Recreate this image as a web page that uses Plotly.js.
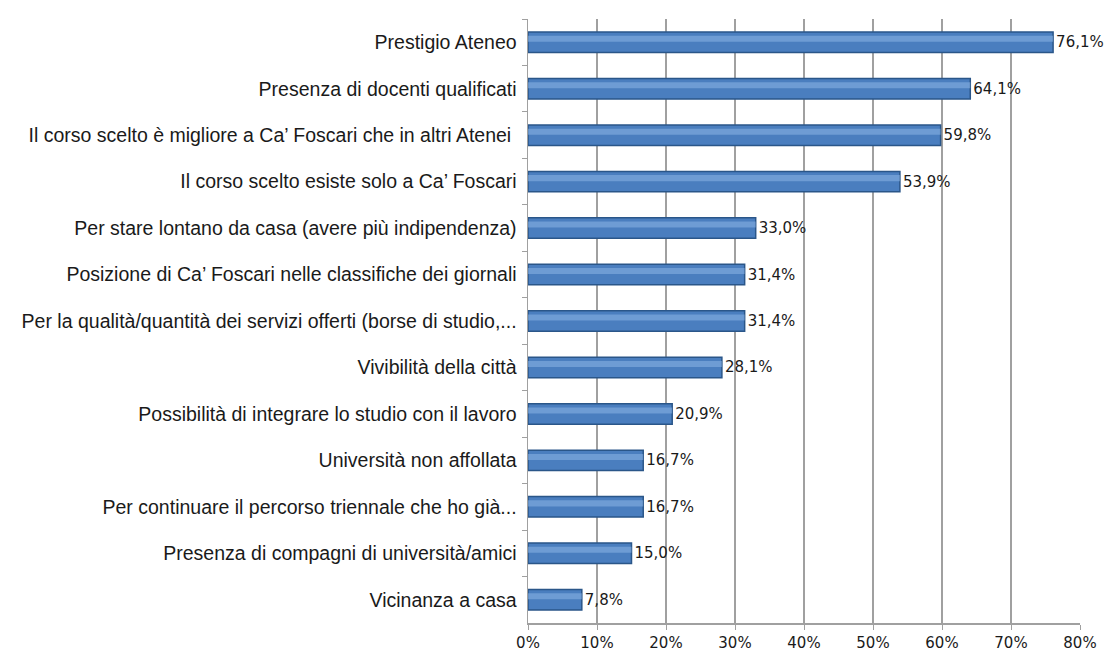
<!DOCTYPE html>
<html>
<head>
<meta charset="utf-8">
<script src="https://cdn.plot.ly/plotly-3.0.1.min.js"></script>
<style>html,body{margin:0;padding:0;background:#fff}#chart{width:1120px;height:665px}</style>
</head>
<body>
<div id="chart"></div>
<script>
const categories = [
  "Prestigio Ateneo",
  "Presenza di docenti qualificati",
  "Il corso scelto è migliore a Ca’ Foscari che in altri Atenei ",
  "Il corso scelto esiste solo a Ca’ Foscari",
  "Per stare lontano da casa (avere più indipendenza)",
  "Posizione di Ca’ Foscari nelle classifiche dei giornali",
  "Per la qualità/quantità dei servizi offerti (borse di studio,...",
  "Vivibilità della città",
  "Possibilità di integrare lo studio con il lavoro",
  "Università non affollata",
  "Per continuare il percorso triennale che ho già...",
  "Presenza di compagni di università/amici",
  "Vicinanza a casa"
];
const values = [76.1, 64.1, 59.8, 53.9, 33.0, 31.4, 31.4, 28.1, 20.9, 16.7, 16.7, 15.0, 7.8];
const tickValues = [0, 10, 20, 30, 40, 50, 60, 70, 80];
const tickLabels = ["0%", "10%", "20%", "30%", "40%", "50%", "60%", "70%", "80%"];

const labelTexts = values.map(v => v.toFixed(1).replace('.', ',') + '%');

const main = {
  type: 'bar',
  orientation: 'h',
  x: values,
  y: categories,
  width: 0.44,
  marker: {color: '#4A7EBF', line: {color: '#2A5689', width: 1.5}},
  text: labelTexts,
  textposition: 'outside',
  cliponaxis: false,
  textfont: {family: 'DejaVu Sans', size: 15, color: '#1a1a1a'},
  hoverinfo: 'skip'
};
const highlight = {
  type: 'bar',
  orientation: 'h',
  x: values,
  y: categories,
  width: 0.13,
  offset: -0.14,
  marker: {color: 'rgba(140,180,230,0.55)', line: {width: 0}},
  hoverinfo: 'skip'
};

const layout = {
  width: 1120, height: 665,
  margin: {l: 528, r: 40, t: 19, b: 42},
  paper_bgcolor: '#fff', plot_bgcolor: '#fff',
  showlegend: false,
  barmode: 'overlay',
  xaxis: {
    range: [0, 80],
    tickvals: tickValues,
    ticktext: tickLabels,
    showgrid: true, gridcolor: '#A0A0A0', gridwidth: 1.2,
    zeroline: false,
    showline: true, linecolor: '#A0A0A0', linewidth: 1.5,
    ticks: 'outside', ticklen: 5, tickcolor: '#A0A0A0',
    tickfont: {family: 'DejaVu Sans', size: 15, color: '#1a1a1a'},
    fixedrange: true
  },
  yaxis: {
    autorange: 'reversed',
    type: 'category',
    showgrid: false, zeroline: false,
    showline: true, linecolor: '#A0A0A0', linewidth: 1.5,
    ticks: 'outside', tickson: 'boundaries', ticklen: 5, tickcolor: '#A0A0A0',
    ticklabelstandoff: 6,
    tickfont: {family: 'Liberation Sans', size: 19.5, color: '#1a1a1a'},
    fixedrange: true
  }
};
Plotly.newPlot('chart', [main, highlight], layout, {displayModeBar: false, staticPlot: true});
</script>
</body>
</html>
